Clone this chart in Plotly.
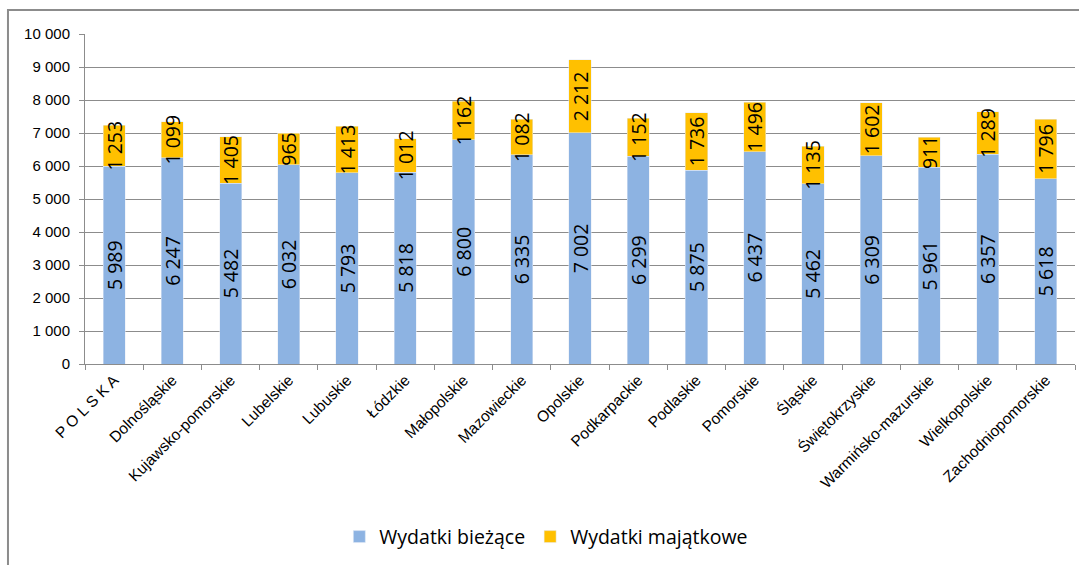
import plotly.graph_objects as go

regions = ["P O L S K A", "Dolnośląskie", "Kujawsko-pomorskie", "Lubelskie", "Lubuskie",
           "Łódzkie", "Małopolskie", "Mazowieckie", "Opolskie", "Podkarpackie", "Podlaskie",
           "Pomorskie", "Śląskie", "Świętokrzyskie", "Warmińsko-mazurskie", "Wielkopolskie",
           "Zachodniopomorskie"]
biezace = [5989, 6247, 5482, 6032, 5793, 5818, 6800, 6335, 7002, 6299, 5875, 6437, 5462,
           6309, 5961, 6357, 5618]
majatkowe = [1253, 1099, 1405, 965, 1413, 1012, 1162, 1082, 2212, 1152, 1736, 1496, 1135,
             1602, 911, 1289, 1796]

fig = go.Figure()
fig.add_trace(go.Bar(x=regions, y=biezace, name="Wydatki bieżące",
                     marker_color="#8DB3E2", texttemplate="%{y:,d}"))
fig.add_trace(go.Bar(x=regions, y=majatkowe, name="Wydatki majątkowe",
                     marker_color="#FFC000", texttemplate="%{y:,d}"))
fig.update_traces(textposition="inside", insidetextanchor="middle", textangle=-90,
                  constraintext="none", cliponaxis=False,
                  textfont=dict(family="Open Sans", size=19.5, color="black"))

fig.update_layout(
    barmode="stack", bargap=0.62, width=1079, height=565,
    separators=", ",
    plot_bgcolor="white", paper_bgcolor="white",
    margin=dict(l=85, r=4, t=34, b=201),
    font=dict(family="Liberation Sans", size=14, color="black"),
    uniformtext=dict(minsize=19.5, mode="show"),
    legend=dict(orientation="h", traceorder="normal", x=0.466, y=-0.524,
                xanchor="center", yanchor="middle",
                font=dict(family="Open Sans", size=19.5), itemwidth=30),
    # grey frame around the chart
    shapes=[dict(type="rect", xref="paper", yref="paper", x0=-0.0778, x1=1.02,
                 y0=-0.65, y1=1.0727, line=dict(color="#8C8C8C", width=2))],
)
fig.update_xaxes(tickangle=-45, showline=True, linecolor="#8C8C8C", ticks="outside",
                 tickson="boundaries", ticklen=5, tickcolor="#8C8C8C",
                 automargin=False, tickfont=dict(size=15.5))
fig.update_yaxes(range=[0, 10000], dtick=1000, tickformat=",d", showgrid=True,
                 gridcolor="#8C8C8C", showline=True, linecolor="#8C8C8C",
                 ticks="outside", ticklen=5, tickcolor="#8C8C8C", zeroline=False,
                 automargin=False, ticklabelstandoff=6, tickfont=dict(size=15))
# drop the browser's default 8px page margin so the figure sits at the window corner
fig.write_html("out.html", config={"displayModeBar": False},
               post_script="document.body.style.margin='0';")
